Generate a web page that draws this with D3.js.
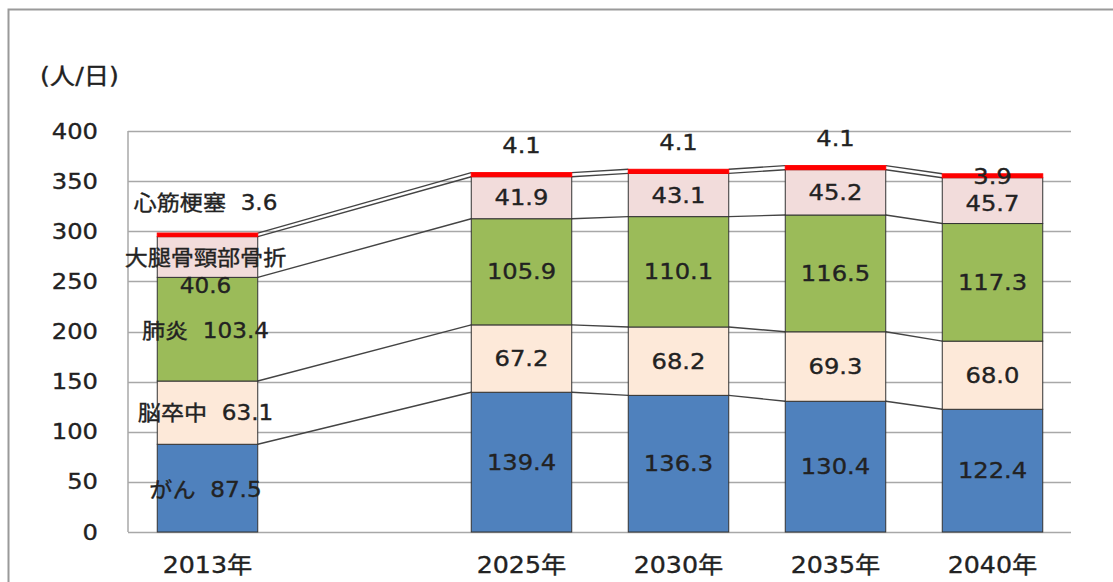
<!DOCTYPE html>
<html>
<head>
<meta charset="utf-8">
<script src="https://cdn.jsdelivr.net/npm/d3@7/dist/d3.min.js"></script>
<style>
  html, body { margin: 0; padding: 0; background: #fff; }
  svg { display: block; }
  text { font-family: "DejaVu Sans", "Noto Sans CJK JP", sans-serif; fill: #222; white-space: pre;
         stroke: #222; stroke-width: 0.35px; }
</style>
</head>
<body>
<svg id="chart" width="1113" height="582"></svg>
<script>
// Category slots along the x axis (one empty slot between 2013 and 2025)
const slots = ["2013年", "", "2025年", "2030年", "2035年", "2040年"];
const years = ["2013年", "2025年", "2030年", "2035年", "2040年"];

// Series (bottom to top)
const seriesNames = ["がん", "脳卒中", "肺炎", "大腿骨頸部骨折", "心筋梗塞"];
const cancer     = [87.5, 139.4, 136.3, 130.4, 122.4];
const stroke     = [63.1, 67.2, 68.2, 69.3, 68.0];
const pneumonia  = [103.4, 105.9, 110.1, 116.5, 117.3];
const hipFrac    = [40.6, 41.9, 43.1, 45.2, 45.7];
const infarction = [3.6, 4.1, 4.1, 4.1, 3.9];

const yTicks = [0, 50, 100, 150, 200, 250, 300, 350, 400];
const unitLabel = "(人/日)";

const colors = ["#4f81bd", "#fde9d9", "#9bbb59", "#f2dcdb", "#ff0000"];

const svg = d3.select("#chart");
const W = 1113, H = 582;
const plot = { left: 129, right: 1071, top: 131, bottom: 532 };
const FONT = "'DejaVu Sans', 'Noto Sans CJK JP', sans-serif";

// outer frame
svg.append("path")
  .attr("d", `M8.5,${H} V9.5 H${W}`)
  .attr("fill", "none").attr("stroke", "#9a9a9a").attr("stroke-width", 2);

const x = d3.scaleBand().domain(slots)
  .range([plot.left, plot.right])
  .paddingInner(0.36).paddingOuter(0.18);
const y = d3.scaleLinear().domain([0, 400]).range([plot.bottom, plot.top]);
const bw = x.bandwidth();

// gridlines
svg.append("g").selectAll("line").data(yTicks).join("line")
  .attr("x1", plot.left - 1).attr("x2", plot.right)
  .attr("y1", d => Math.round(y(d)) + 0.5).attr("y2", d => Math.round(y(d)) + 0.5)
  .attr("stroke", "#a8a8a8").attr("stroke-width", 1.5);
svg.append("line")
  .attr("x1", plot.left - 1).attr("x2", plot.left - 1)
  .attr("y1", y(400)).attr("y2", y(0))
  .attr("stroke", "#a8a8a8").attr("stroke-width", 1.5);

// y axis labels
const yAxis = d3.axisLeft(y).tickValues(yTicks).tickSize(0).tickPadding(31);
const gy = svg.append("g").attr("transform", `translate(${plot.left},0)`).call(yAxis);
gy.select(".domain").remove();
gy.selectAll("text").attr("font-size", 22).attr("fill", "#222").attr("font-family", FONT);

// x axis labels
const xAxis = d3.axisBottom(x).tickSize(0).tickPadding(25);
const gx = svg.append("g").attr("transform", `translate(0,${plot.bottom})`).call(xAxis);
gx.select(".domain").remove();
gx.selectAll("text").attr("font-size", 23).attr("fill", "#222").attr("font-family", FONT);

svg.append("text").attr("x", 40).attr("y", 84).attr("font-size", 23).text(unitLabel);

// stacked data
const rows = years.map((yr, i) => ({
  year: yr,
  がん: cancer[i], 脳卒中: stroke[i], 肺炎: pneumonia[i],
  大腿骨頸部骨折: hipFrac[i], 心筋梗塞: infarction[i]
}));
const stacked = d3.stack().keys(seriesNames)(rows);

// connector lines between bar tops
const conn = svg.append("g");
stacked.forEach(s => {
  for (let j = 0; j < years.length - 1; j++) {
    conn.append("line")
      .attr("x1", x(years[j]) + bw).attr("y1", y(s[j][1]))
      .attr("x2", x(years[j + 1])).attr("y2", y(s[j + 1][1]))
      .attr("stroke", "#444").attr("stroke-width", 1.4);
  }
});

// bars
const bars = svg.append("g");
stacked.forEach((s, si) => {
  bars.selectAll(null).data(s).join("rect")
    .attr("x", d => x(d.data.year))
    .attr("width", bw)
    .attr("y", d => y(d[1]))
    .attr("height", d => y(d[0]) - y(d[1]))
    .attr("fill", colors[si])
    .attr("stroke", si === 4 ? "#ff0000" : "#333")
    .attr("stroke-width", 1);
});

// value labels for the projected years
const fmt = d3.format(".1f");
const labels = svg.append("g").attr("font-size", 22);
stacked.forEach((s, si) => {
  s.forEach((d, j) => {
    if (j === 0) return;
    const cx = x(d.data.year) + bw / 2;
    let cy;
    if (si === 4) {
      cy = j === 4 ? y(d[1]) + 3 : y(d[1]) - 27;
    } else {
      cy = (y(d[0]) + y(d[1])) / 2 + (si === 3 && j === 4 ? 3 : 0);
    }
    labels.append("text")
      .attr("x", cx).attr("y", cy)
      .attr("text-anchor", "middle").attr("dominant-baseline", "central")
      .text(fmt(d[1] - d[0]));
  });
});

// 2013 labels: category name with its value
const labelY2013 = [42, 119, 201, 273, 328];
const g13 = svg.append("g").attr("font-size", 21);
const cx13 = x(years[0]) + bw / 2 - 2;
seriesNames.forEach((name, si) => {
  const v = stacked[si][0][1] - stacked[si][0][0];
  if (si === 3) {
    g13.append("text").attr("x", cx13).attr("y", y(labelY2013[si]))
      .attr("text-anchor", "middle").attr("dominant-baseline", "central").text(name);
    g13.append("text").attr("x", cx13).attr("y", y(246))
      .attr("text-anchor", "middle").attr("dominant-baseline", "central").text(fmt(v));
  } else {
    g13.append("text").attr("x", cx13).attr("y", y(labelY2013[si]))
      .attr("text-anchor", "middle").attr("dominant-baseline", "central")
      .text(name + "  " + fmt(v));
  }
});

// widen all lettering slightly around its anchor point
svg.selectAll("text").each(function () {
  const t = d3.select(this);
  const ax = +t.attr("x") || 0, ay = +t.attr("y") || 0;
  t.attr("transform", `translate(${ax},${ay}) scale(1.1,1) translate(${-ax},${-ay})`);
});
</script>
</body>
</html>
